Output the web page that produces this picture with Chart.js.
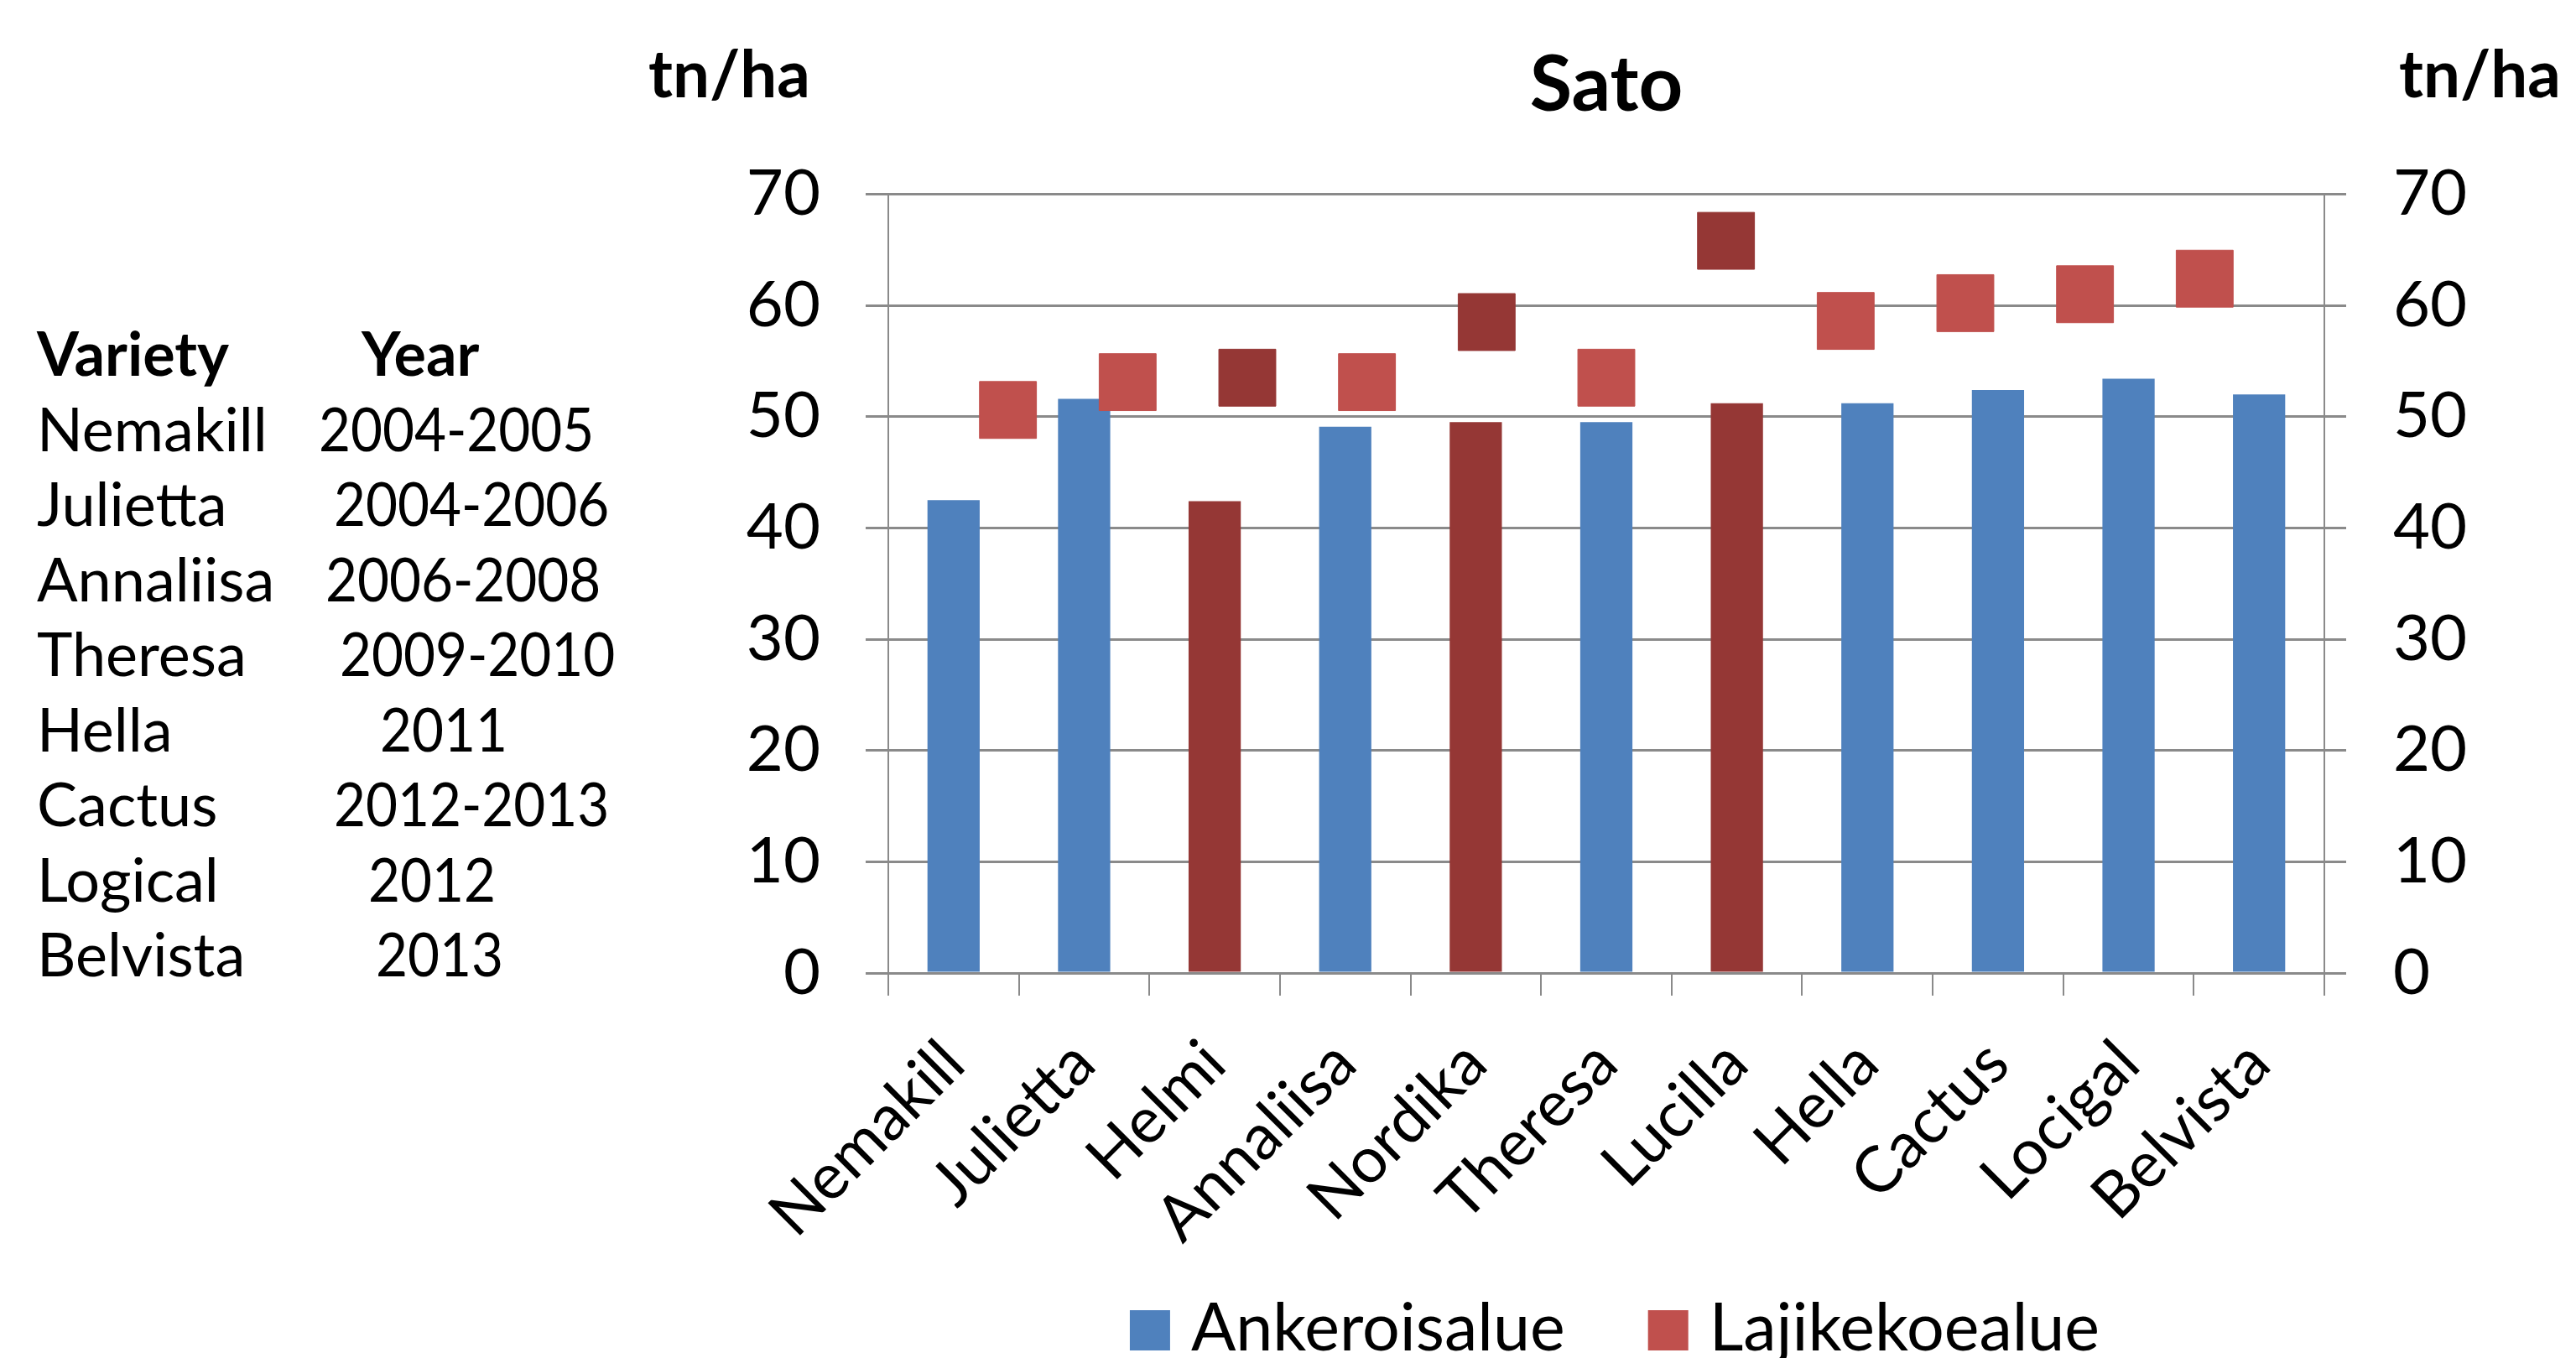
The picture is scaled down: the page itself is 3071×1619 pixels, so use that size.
<!DOCTYPE html>
<html>
<head>
<meta charset="utf-8">
<script src="https://cdn.jsdelivr.net/npm/chart.js@4.4.1/dist/chart.umd.min.js"></script>
<style>
  html, body { margin: 0; padding: 0; background: #fff; overflow: hidden; }
  #box { position: absolute; left: 0; top: 0; width: 3071px; height: 1619px; }
</style>
</head>
<body>
<div id="box"><canvas id="chart"></canvas></div>
<script>
// --- data ---
const categories = ['Nemakill', 'Julietta', 'Helmi', 'Annaliisa', 'Nordika', 'Theresa', 'Lucilla', 'Hella', 'Cactus', 'Locigal', 'Belvista'];
const seriesNames = ['Ankeroisalue', 'Lajikekoealue'];
const ankeroisalue = [42.5, 51.6, 42.4, 49.1, 49.5, 49.5, 51.2, 51.2, 52.4, 53.4, 52.0];
const lajikekoealue = [50.6, 53.1, 53.5, 53.1, 58.5, 53.5, 65.8, 58.6, 60.2, 61.0, 62.4];
const darkCategories = ['Helmi', 'Nordika', 'Lucilla'];
const yMin = 0, yMax = 70, yStep = 10;
const chartTitle = 'Sato';
const unitLabel = 'tn/ha';
const tableHead = ['Variety', 'Year'];
const tableVarieties = ['Nemakill', 'Julietta', 'Annaliisa', 'Theresa', 'Hella', 'Cactus', 'Logical', 'Belvista'];
const tableYears = ['2004-2005', '2004-2006', '2006-2008', '2009-2010', '2011', '2012-2013', '2012', '2013'];

// --- style ---
const FONT = 'Lato';
const BLUE = '#4F81BD', RED = '#C0504D', DARK = '#953735', GRID = '#8A8A8A';
const yearX = [380, 398, 388, 405, 453, 398, 439, 448]; // left edge of each year text
const isDark = c => darkCategories.includes(c);

const overlay = {
  id: 'overlay',
  afterDraw(chart) {
    const ctx = chart.ctx, area = chart.chartArea;
    ctx.save();
    ctx.fillStyle = '#000';
    ctx.textBaseline = 'alphabetic';
    ctx.textAlign = 'left';

    // axis units
    ctx.font = `bold 78px ${FONT}`;
    ctx.fillText(unitLabel, 773, 116);
    ctx.fillText(unitLabel, 2860, 116);

    // variety table
    ctx.font = `bold 72px ${FONT}`;
    ctx.fillText(tableHead[0], 44, 448);
    ctx.fillText(tableHead[1], 431, 448);
    ctx.font = `72px ${FONT}`;
    tableVarieties.forEach((v, i) => {
      const y = 537.5 + i * 89.5;
      ctx.fillText(v, 44, y);
      // Lato digits run wider than the original font, squeeze them a little
      ctx.save();
      ctx.translate(yearX[i], y);
      ctx.scale(0.91, 1);
      ctx.fillText(tableYears[i], 0, 0);
      ctx.restore();
    });

    // legend
    ctx.font = `79px ${FONT}`;
    const items = [{ text: seriesNames[0], color: BLUE }, { text: seriesNames[1], color: RED }];
    const sq = 48, gap = 25, between = 99;
    const widths = items.map(it => ctx.measureText(it.text).width);
    const total = items.length * (sq + gap) + widths.reduce((a, b) => a + b, 0) + between * (items.length - 1);
    let x = (area.left + area.right) / 2 - total / 2 + 10;
    items.forEach((it, i) => {
      ctx.fillStyle = it.color;
      ctx.fillRect(x, 1562, sq, sq);
      ctx.fillStyle = '#000';
      ctx.fillText(it.text, x + sq + gap, 1610);
      x += sq + gap + widths[i] + between;
    });
    ctx.restore();
  }
};

const tickFont = { family: FONT, size: 76 };

new Chart(document.getElementById('chart'), {
  type: 'bar',
  data: {
    labels: categories,
    datasets: [
      {
        type: 'line',
        label: seriesNames[1],
        data: lajikekoealue.map((v, i) => ({ x: i + 1, y: v })),
        xAxisID: 'x2',
        yAxisID: 'y',
        showLine: false,
        pointStyle: 'rect',
        pointRadius: 48,
        pointHoverRadius: 48,
        pointBackgroundColor: categories.map(c => isDark(c) ? DARK : RED),
        pointBorderColor: categories.map(c => isDark(c) ? DARK : RED),
        pointBorderWidth: 1,
        order: 0
      },
      {
        type: 'bar',
        label: seriesNames[0],
        data: ankeroisalue,
        xAxisID: 'x',
        yAxisID: 'y',
        backgroundColor: categories.map(c => isDark(c) ? DARK : BLUE),
        grouped: false,
        categoryPercentage: 1,
        barPercentage: 0.4,
        order: 1
      }
    ]
  },
  options: {
    responsive: true,
    maintainAspectRatio: false,
    animation: false,
    layout: { padding: 0 },
    plugins: {
      legend: { display: false },
      tooltip: { enabled: false },
      title: {
        display: true,
        text: chartTitle,
        fullSize: false,
        color: '#000',
        font: { family: FONT, size: 92, weight: 'bold', lineHeight: 1.2 },
        padding: { top: 47, bottom: 74 }
      }
    },
    scales: {
      x: {
        type: 'category',
        offset: true,
        afterFit: s => { s.height = 459; },
        grid: { offset: true, drawOnChartArea: false, drawTicks: true, tickLength: 27, color: GRID, lineWidth: 2 },
        border: { display: true, color: GRID, width: 3 },
        ticks: { autoSkip: false, minRotation: 45, maxRotation: 45, padding: 36, color: '#000', font: tickFont }
      },
      // markers sit on the tick marks of a 0..12 secondary axis, as in the original
      x2: { type: 'linear', display: false, offset: false, min: 0, max: categories.length + 1 },
      y: {
        position: 'left',
        min: yMin, max: yMax,
        afterFit: s => { s.width = 1059; },
        grid: { color: GRID, lineWidth: 3, tickLength: 27 },
        border: { display: true, color: GRID, width: 2 },
        ticks: { stepSize: yStep, padding: 54, color: '#000', font: tickFont }
      },
      y2: {
        position: 'right',
        min: yMin, max: yMax,
        afterFit: s => { s.width = 300; },
        grid: { drawOnChartArea: false, color: GRID, lineWidth: 3, tickLength: 26 },
        border: { display: true, color: GRID, width: 2 },
        ticks: { stepSize: yStep, padding: 56, color: '#000', font: tickFont }
      }
    }
  },
  plugins: [overlay]
});
</script>
</body>
</html>
